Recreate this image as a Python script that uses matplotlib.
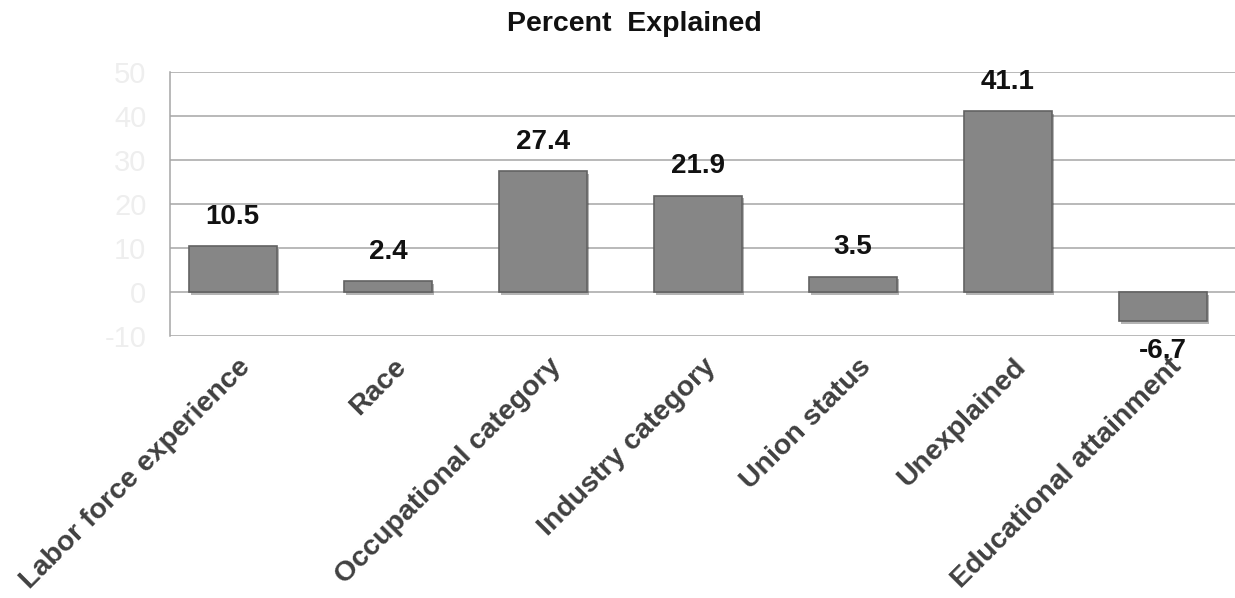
import matplotlib
matplotlib.use("Agg")
import matplotlib.pyplot as plt
import matplotlib.patheffects as pe
import matplotlib.transforms as mtransforms

categories = ["Labor force experience", "Race", "Occupational category",
              "Industry category", "Union status", "Unexplained",
              "Educational attainment"]
values = [10.5, 2.4, 27.4, 21.9, 3.5, 41.1, -6.7]
yticks = [-10, 0, 10, 20, 30, 40, 50]

plt.rcParams['font.family'] = ['Liberation Sans', 'DejaVu Sans']
plt.rcParams['axes.unicode_minus'] = False

fig = plt.figure(figsize=(12.35, 5.98), dpi=100)
ax = fig.add_axes([170/1235, 1-336/598, (1256-170)/1235, (336-72)/598])

x = list(range(len(categories)))
bars = ax.bar(x, values, width=0.57, color='#868686', edgecolor='#626262',
              linewidth=1.2, zorder=3,
              path_effects=[pe.SimplePatchShadow(offset=(1.5, -2), alpha=0.35),
                            pe.Normal()])

ax.set_xlim(-0.405, 6.6)
ax.set_ylim(-10, 50)
ax.set_yticks(yticks)
ax.yaxis.grid(True, color='#a6a6a6', linewidth=1.1, zorder=0)
ax.set_axisbelow(True)
for s in ['top', 'right', 'bottom']:
    ax.spines[s].set_visible(False)
ax.spines['left'].set_color('#a6a6a6')
ax.spines['left'].set_linewidth(1.1)
ax.tick_params(axis='y', length=0, pad=17, labelsize=21, labelcolor='#eeeeee')
ax.tick_params(axis='x', length=0, pad=4)
ax.set_xticks(x)
ax.set_xticklabels(categories, rotation=45, ha='right', va='top',
                   rotation_mode='anchor', fontsize=20.5, fontweight='bold',
                   color='#404040')
for lab in ax.get_xticklabels():
    lab.set_transform(lab.get_transform() + mtransforms.ScaledTranslation(0.05, -0.12, fig.dpi_scale_trans))

for xi, v in zip(x, values):
    off = 21 if v >= 0 else -21
    ax.annotate(f"{v:.1f}", (xi, v), xytext=(0, off), textcoords='offset points',
                ha='center', va='center', fontsize=20, fontweight='bold',
                color='#111111')

fig.text(634/1235, 1-24/598, "Percent  Explained", ha='center', va='center',
         fontsize=20.5, fontweight='bold', color='#111111')

fig.savefig("out.png", dpi=100)
